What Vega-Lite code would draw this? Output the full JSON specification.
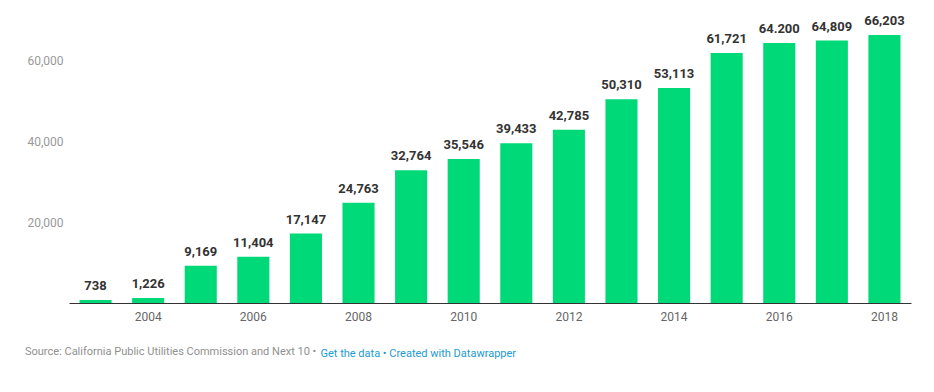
{
  "$schema": "https://vega.github.io/schema/vega-lite/v6.json",
  "width": 842,
  "height": 283.5,
  "autosize": {"type": "none"},
  "padding": {"left": 69, "top": 19.5, "right": 23, "bottom": 89},
  "background": "#ffffff",
  "config": {"view": {"stroke": null}, "font": "Roboto"},
  "title": {
    "text": "Source: California Public Utilities Commission and Next 10 •",
    "orient": "bottom",
    "anchor": "start",
    "frame": "group",
    "dx": -44,
    "offset": -12,
    "fontSize": 11,
    "fontWeight": "normal",
    "color": "#909090",
    "font": "Roboto"
  },
  "data": {
    "values": [
      {"year": "2003", "value": 738, "label": "738"},
      {"year": "2004", "value": 1226, "label": "1,226"},
      {"year": "2005", "value": 9169, "label": "9,169"},
      {"year": "2006", "value": 11404, "label": "11,404"},
      {"year": "2007", "value": 17147, "label": "17,147"},
      {"year": "2008", "value": 24763, "label": "24,763"},
      {"year": "2009", "value": 32764, "label": "32,764"},
      {"year": "2010", "value": 35546, "label": "35,546"},
      {"year": "2011", "value": 39433, "label": "39,433"},
      {"year": "2012", "value": 42785, "label": "42,785"},
      {"year": "2013", "value": 50310, "label": "50,310"},
      {"year": "2014", "value": 53113, "label": "53,113"},
      {"year": "2015", "value": 61721, "label": "61,721"},
      {"year": "2016", "value": 64200, "label": "64.200"},
      {"year": "2017", "value": 64809, "label": "64,809"},
      {"year": "2018", "value": 66203, "label": "66,203"}
    ]
  },
  "encoding": {
    "x": {
      "field": "year",
      "type": "ordinal",
      "scale": {"paddingInner": 0.39, "paddingOuter": 0.2},
      "axis": {
        "labelAngle": 0,
        "labelExpr": "toNumber(datum.value) % 2 == 0 ? datum.value : ''",
        "ticks": false,
        "domainColor": "#333333",
        "domainWidth": 1,
        "labelColor": "#666666",
        "labelFontSize": 12,
        "labelFont": "Roboto",
        "labelPadding": 8,
        "title": "Get the data • Created with Datawrapper",
        "titleColor": "#1d9bd1",
        "titleFontSize": 11,
        "titleFontWeight": "normal",
        "titleFont": "Roboto",
        "titleAlign": "left",
        "titleAnchor": "start",
        "titleBaseline": "alphabetic",
        "titleX": 251,
        "titleY": 53
      }
    },
    "y": {
      "field": "value",
      "type": "quantitative",
      "scale": {"domain": [0, 70000], "nice": false},
      "axis": {
        "values": [20000, 40000, 60000],
        "format": ",d",
        "domain": false,
        "ticks": false,
        "grid": false,
        "labelColor": "#999999",
        "labelFontSize": 12,
        "labelFont": "Roboto",
        "labelPadding": 6,
        "title": null
      }
    }
  },
  "layer": [
    {"mark": {"type": "bar", "color": "#00d977"}},
    {
      "mark": {"type": "text", "baseline": "bottom", "dy": -7, "font": "Roboto", "fontWeight": "bold", "fontSize": 13, "color": "#333333"},
      "encoding": {"text": {"field": "label"}}
    }
  ]
}
